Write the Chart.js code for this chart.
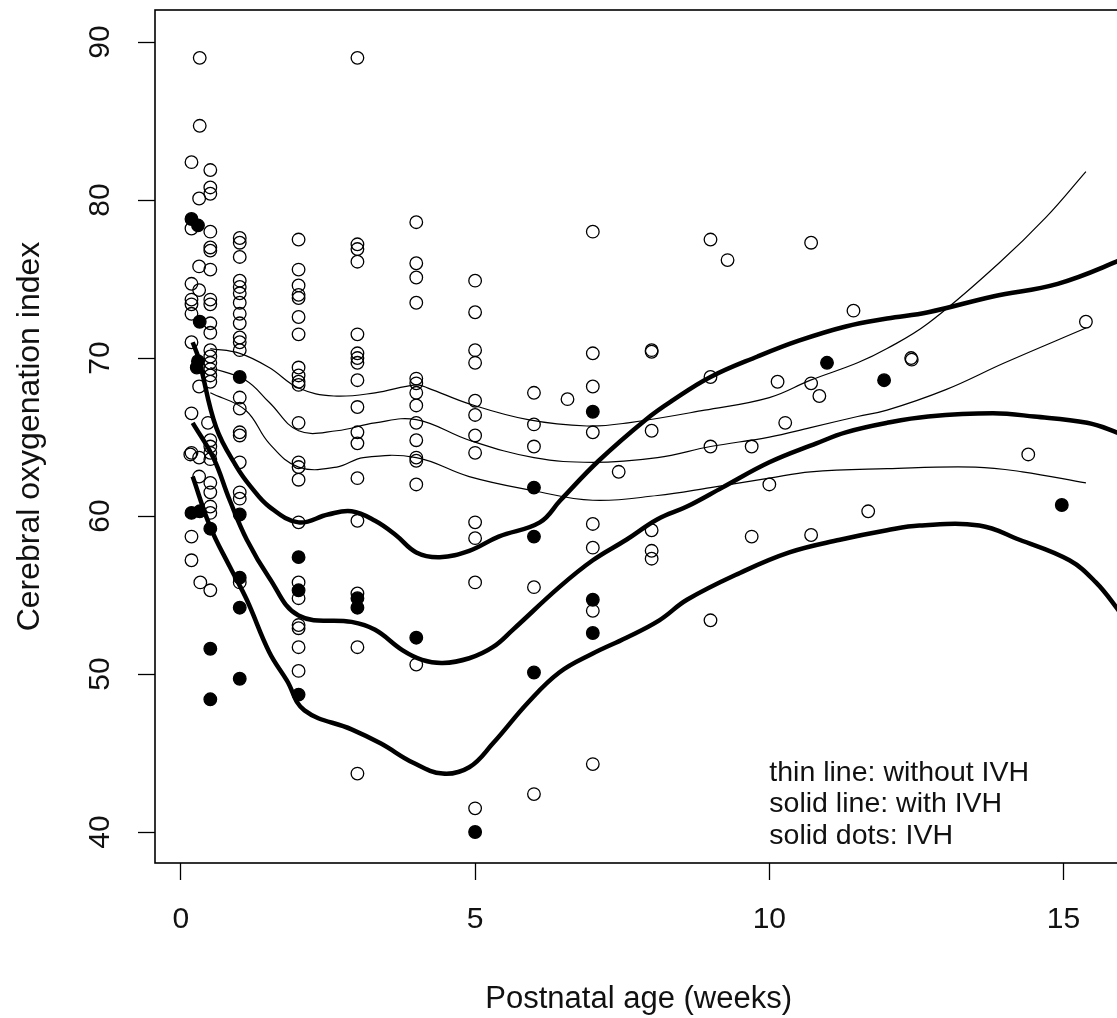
<!DOCTYPE html>
<html>
<head>
<meta charset="utf-8">
<title>Cerebral oxygenation index</title>
<script src="https://cdn.jsdelivr.net/npm/chart.js@4/dist/chart.umd.min.js"></script>
<style>
    html, body { margin: 0; padding: 0; background: #fff; overflow: hidden; }
    #chart { display: block; }
</style>
</head>
<body>
<canvas id="chart" width="1130" height="1018"></canvas>
<script>
// open circles, [age in weeks, index]
var openPoints = [
    [0.18, 82.4], [0.18, 78.2], [0.18, 74.7], [0.18, 73.7], [0.18, 73.4], [0.18, 72.8], [0.18, 71.0],
    [0.18, 66.5], [0.18, 64.0], [0.16, 63.9], [0.18, 58.7], [0.18, 57.2],
    [0.32, 89.0], [0.32, 84.7], [0.31, 80.1], [0.31, 75.8], [0.31, 74.3], [0.31, 68.2], [0.31, 63.7],
    [0.31, 62.5], [0.33, 55.8],
    [0.5, 81.9], [0.5, 80.8], [0.5, 80.4], [0.5, 78.0], [0.5, 77.0], [0.5, 76.8], [0.5, 75.6], [0.5, 73.7],
    [0.5, 73.4], [0.5, 72.2], [0.5, 71.6], [0.5, 70.5], [0.5, 70.1], [0.5, 69.7], [0.5, 69.3], [0.5, 68.9],
    [0.5, 68.5], [0.46, 65.9], [0.5, 64.8], [0.5, 64.4], [0.5, 64.0], [0.5, 63.6], [0.5, 62.1], [0.5, 61.5],
    [0.5, 60.6], [0.5, 60.2], [0.5, 55.3],
    [1, 77.6], [1, 77.3], [1, 76.4], [1, 74.9], [1, 74.5], [1, 74.1], [1, 73.5], [1, 72.8], [1, 72.2],
    [1, 71.3], [1, 71.0], [1, 70.5], [1, 67.5], [1, 66.8], [1, 65.3], [1, 65.1], [1, 63.4], [1, 61.5],
    [1, 61.1], [1, 55.8],
    [2, 77.5], [2, 75.6], [2, 74.6], [2, 74.0], [2, 73.8], [2, 72.6], [2, 71.5], [2, 69.4], [2, 68.9],
    [2, 68.5], [2, 68.3], [2, 65.9], [2, 63.4], [2, 63.1], [2, 62.3], [2, 59.6], [2, 55.8], [2, 54.8],
    [2, 53.1], [2, 52.9], [2, 51.7], [2, 50.2],
    [3, 89.0], [3, 77.2], [3, 76.9], [3, 76.1], [3, 71.5], [3, 70.3], [3, 70.0], [3, 69.7], [3, 68.6],
    [3, 66.9], [3, 65.3], [3, 64.6], [3, 62.4], [3, 59.7], [3, 55.1], [3, 51.7], [3, 43.7],
    [4, 78.6], [4, 76.0], [4, 75.1], [4, 73.5], [4, 68.7], [4, 68.4], [4, 67.8], [4, 67.0], [4, 65.9],
    [4, 64.8], [4, 63.7], [4, 63.5], [4, 62.0], [4, 50.6],
    [5, 74.9], [5, 72.9], [5, 70.5], [5, 69.7], [5, 67.3], [5, 66.4], [5, 65.1], [5, 64.0], [5, 59.6],
    [5, 58.6], [5, 55.8], [5, 41.5],
    [6, 67.8], [6, 65.8], [6, 64.4], [6, 55.5], [6, 42.4], [6.57, 67.4],
    [7, 78.0], [7, 70.3], [7, 68.2], [7, 65.3], [7, 59.5], [7, 58.0], [7, 54.0], [7, 44.3], [7.44, 62.8],
    [8, 70.5], [8, 70.4], [8, 65.4], [8, 59.1], [8, 57.8], [8, 57.3],
    [9, 77.5], [9, 68.8], [9, 64.4], [9, 53.4], [9.29, 76.2], [9.7, 64.4], [9.7, 58.7], [10.0, 62.0],
    [10.14, 68.5], [10.27, 65.9], [10.71, 77.3], [10.71, 68.4], [10.71, 58.8], [10.85, 67.6],
    [11.43, 73.0], [11.68, 60.3], [12.41, 70.0], [12.42, 69.9], [14.4, 63.9], [15.38, 72.3]
];

// solid dots: IVH
var ivhPoints = [
    [0.18, 78.8], [0.29, 78.4], [0.32, 72.3], [0.29, 69.8], [0.27, 69.4], [0.18, 60.2], [0.32, 60.3],
    [0.5, 59.2], [0.5, 51.6], [0.5, 48.4],
    [1, 68.8], [1, 60.1], [1, 56.1], [1, 54.2], [1, 49.7],
    [2, 57.4], [2, 55.3], [2, 48.7], [3, 54.8], [3, 54.2], [4, 52.3], [5, 40.0],
    [6, 61.8], [6, 58.7], [6, 50.1], [7, 66.6], [7, 54.7], [7, 52.6],
    [10.98, 69.7], [11.95, 68.6], [14.97, 60.7]
];

// thin lines: without IVH
var thinUpper = [
    [0.5, 70.6], [1.0, 70.3], [1.5, 69.4], [2.0, 68.1], [2.6, 67.6], [3.3, 67.8], [4.0, 68.3], [4.2, 68.1],
    [4.9, 67.1], [5.9, 66.1], [6.9, 65.7], [7.6, 65.9], [8.9, 66.7], [10.0, 67.5], [10.7, 68.6],
    [11.5, 69.7], [12.0, 70.6], [12.7, 72.2], [13.9, 76.0], [14.7, 78.9], [15.38, 81.8]
];
var thinMiddle = [
    [0.5, 69.4], [1.1, 68.6], [1.5, 67.2], [2.0, 65.4], [2.65, 65.4], [3.3, 65.9], [4.0, 66.1], [4.9, 64.8],
    [6.0, 63.7], [7.0, 63.4], [8.1, 63.7], [9.0, 64.4], [10.0, 65.0], [10.7, 65.6], [11.5, 66.3],
    [12.0, 66.7], [13.0, 68.0], [14.0, 69.7], [15.38, 71.9]
];
var thinLower = [
    [0.5, 67.8], [1.1, 66.7], [1.5, 64.6], [2.0, 63.1], [2.65, 63.1], [3.1, 63.7], [4.0, 63.7], [4.9, 62.5],
    [6.0, 61.6], [7.0, 61.0], [8.1, 61.3], [9.0, 61.8], [10.0, 62.4], [10.7, 62.8], [12.0, 63.0],
    [13.5, 63.1], [14.3, 62.8], [15.38, 62.1]
];

// solid lines: with IVH
var thickUpper = [
    [0.2, 71.0], [0.3, 70.0], [0.6, 65.6], [0.95, 63.1], [1.2, 61.8], [1.5, 60.6], [2.0, 59.6], [2.5, 60.1],
    [2.9, 60.3], [3.3, 59.7], [3.65, 58.8], [4.0, 57.7], [4.4, 57.4], [4.9, 57.8], [5.4, 58.7], [6.1, 59.6],
    [6.45, 61.0], [7.1, 63.5], [7.9, 66.1], [8.35, 67.3], [9.0, 68.8], [9.8, 70.1], [10.5, 71.1],
    [11.3, 72.0], [12.0, 72.5], [12.7, 72.9], [13.8, 73.9], [14.9, 74.7], [15.9, 76.1], [16.2, 76.7]
];
var thickMiddle = [
    [0.2, 65.9], [0.55, 63.7], [0.83, 61.0], [1.12, 58.5], [1.5, 56.1], [2.0, 53.7], [2.9, 53.3],
    [3.3, 52.8], [3.77, 51.5], [4.1, 50.9], [4.45, 50.7], [4.9, 51.0], [5.3, 51.7], [5.64, 52.8],
    [6.43, 55.5], [7.0, 57.2], [7.57, 58.5], [8.1, 59.8], [8.6, 60.6], [9.2, 61.8], [10.0, 63.4],
    [10.8, 64.6], [11.3, 65.3], [12.0, 65.9], [12.7, 66.3], [13.8, 66.5], [14.5, 66.3], [15.4, 65.9],
    [15.9, 65.3], [16.2, 64.8]
];
var thickLower = [
    [0.2, 62.5], [0.5, 59.3], [0.83, 56.8], [1.12, 54.7], [1.5, 51.4], [1.8, 49.6], [2.1, 47.7],
    [2.9, 46.5], [3.4, 45.6], [3.94, 44.4], [4.45, 43.7], [4.9, 44.1], [5.3, 45.6], [5.9, 48.2],
    [6.43, 50.1], [7.0, 51.3], [7.57, 52.3], [8.13, 53.4], [8.6, 54.7], [9.5, 56.4], [10.34, 57.7],
    [11.2, 58.5], [12.0, 59.1], [12.55, 59.4], [13.57, 59.4], [14.25, 58.5], [15.1, 57.2],
    [15.55, 55.8], [15.9, 54.2], [16.2, 52.6]
];

var xTicks = [0, 5, 10, 15];
var yTicks = [40, 50, 60, 70, 80, 90];
var notes = ['thin line: without IVH', 'solid line: with IVH', 'solid dots: IVH'];
var noteY = [44, 42, 40];
var noteX = 10;

var FONT = '"Liberation Sans", Arial, sans-serif';

function toXY(list) {
    return list.map(function (p) {
        return {x: p[0], y: p[1]};
    });
}

function curve(list, width) {
    return {
        data: toXY(list),
        showLine: true,
        borderColor: '#000',
        borderWidth: width,
        pointRadius: 0,
        tension: 0.4,
        fill: false
    };
}

// plot box and the notes in the lower right
var boxPlugin = {
    id: 'box',
    afterDraw: function (chart) {
        var ctx = chart.ctx,
            a = chart.chartArea,
            sx = chart.scales.x,
            sy = chart.scales.y;

        ctx.save();
        ctx.strokeStyle = '#000';
        ctx.lineWidth = 1.6;
        ctx.strokeRect(a.left, a.top, a.right - a.left, a.bottom - a.top);

        ctx.fillStyle = '#111';
        ctx.font = '28.5px ' + FONT;
        ctx.textAlign = 'left';
        ctx.textBaseline = 'middle';
        notes.forEach(function (t, i) {
            // text baseline sits a touch low in the original
            ctx.fillText(t, sx.getPixelForValue(noteX), sy.getPixelForValue(noteY[i]) + 4);
        });
        ctx.restore();
    }
};

var ctx = document.getElementById('chart');

new Chart(ctx, {
    type: 'scatter',
    data: {
        datasets: [
            curve(thinUpper, 1.2),
            curve(thinMiddle, 1.2),
            curve(thinLower, 1.2),
            curve(thickUpper, 4.5),
            curve(thickMiddle, 4.5),
            curve(thickLower, 4.5),
            {
                data: toXY(ivhPoints),
                pointRadius: 6.3,
                pointBackgroundColor: '#000',
                pointBorderColor: '#000',
                pointBorderWidth: 1.3
            },
            {
                data: toXY(openPoints),
                pointRadius: 6.3,
                pointBackgroundColor: 'rgba(0,0,0,0)',
                pointBorderColor: '#000',
                pointBorderWidth: 1.3
            }
        ]
    },
    options: {
        responsive: false,
        animation: false,
        events: [],
        layout: {
            padding: {left: 0, top: 10, right: 3, bottom: 0}
        },
        plugins: {
            legend: {display: false},
            tooltip: {enabled: false}
        },
        scales: {
            x: {
                type: 'linear',
                min: -0.44,
                max: 16.0,
                afterBuildTicks: function (scale) {
                    scale.ticks = xTicks.map(function (v) {
                        return {value: v};
                    });
                },
                afterFit: function (scale) {
                    scale.height = 155;
                    scale.paddingLeft = 0;
                    scale.paddingRight = 0;
                },
                grid: {
                    drawOnChartArea: false,
                    drawTicks: true,
                    tickLength: 17,
                    tickColor: '#000',
                    tickWidth: 1.3
                },
                border: {display: false},
                ticks: {
                    color: '#111',
                    padding: 22,
                    maxRotation: 0,
                    font: {family: FONT, size: 30}
                },
                title: {
                    display: true,
                    text: 'Postnatal age (weeks)',
                    color: '#111',
                    font: {family: FONT, size: 31},
                    padding: {top: 0, bottom: 0}
                }
            },
            y: {
                type: 'linear',
                min: 38.04,
                max: 92.03,
                afterBuildTicks: function (scale) {
                    scale.ticks = yTicks.map(function (v) {
                        return {value: v};
                    });
                },
                afterFit: function (scale) {
                    scale.width = 155;
                    scale.paddingTop = 0;
                    scale.paddingBottom = 0;
                },
                grid: {
                    drawOnChartArea: false,
                    drawTicks: true,
                    tickLength: 17,
                    tickColor: '#000',
                    tickWidth: 1.3
                },
                border: {display: false},
                ticks: {
                    color: '#111',
                    padding: 21,
                    minRotation: 90,
                    maxRotation: 90,
                    crossAlign: 'center',
                    font: {family: FONT, size: 30}
                },
                title: {
                    display: true,
                    text: 'Cerebral oxygenation index',
                    color: '#111',
                    font: {family: FONT, size: 32},
                    padding: {top: 11, bottom: 0}
                }
            }
        }
    },
    plugins: [boxPlugin]
});
</script>
</body>
</html>
